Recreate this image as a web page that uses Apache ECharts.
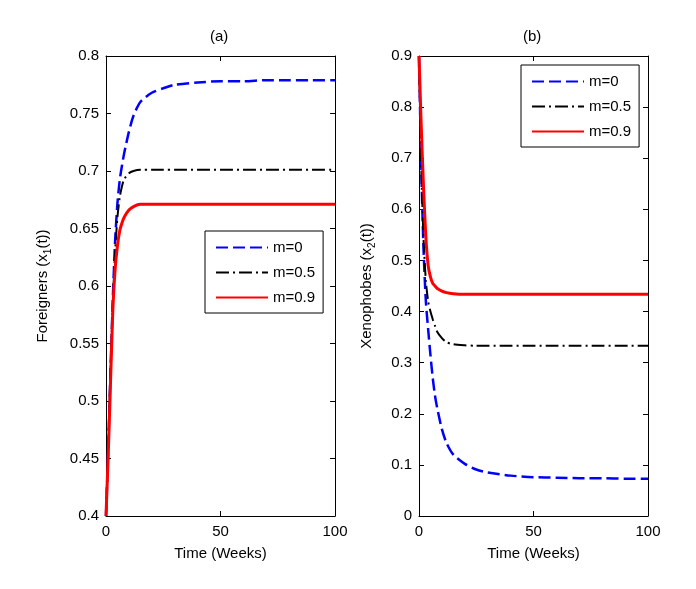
<!DOCTYPE html>
<html>
<head>
<meta charset="utf-8">
<title>Foreigners / Xenophobes</title>
<script src="https://cdn.jsdelivr.net/npm/echarts@6/dist/echarts.min.js"></script>
<style>
  html, body { margin: 0; padding: 0; background: #fff; }
  #chart { width: 696px; height: 589px; }
</style>
</head>
<body>
<div id="chart"></div>
<script>
// time axis (weeks), shared by both panels
const weeks = [0, 1, 2, 3, 4, 5, 6, 7, 8, 10, 12, 15, 20, 25, 30, 40, 50, 60, 70, 80, 90, 100];

// (a) Foreigners x1(t)
const foreignM0  = [0.400, 0.460, 0.528, 0.590, 0.640, 0.672, 0.692, 0.705, 0.716, 0.734, 0.748, 0.760, 0.768, 0.772, 0.775, 0.777, 0.778, 0.778, 0.779, 0.779, 0.779, 0.779];
const foreignM05 = [0.400, 0.462, 0.527, 0.585, 0.630, 0.660, 0.677, 0.687, 0.693, 0.698, 0.700, 0.701, 0.701, 0.701, 0.701, 0.701, 0.701, 0.701, 0.701, 0.701, 0.701, 0.701];
const foreignM09 = [0.400, 0.455, 0.518, 0.580, 0.615, 0.635, 0.648, 0.655, 0.660, 0.666, 0.669, 0.671, 0.671, 0.671, 0.671, 0.671, 0.671, 0.671, 0.671, 0.671, 0.671, 0.671];

// (b) Xenophobes x2(t)
const xenoM0  = [0.900, 0.680, 0.520, 0.420, 0.365, 0.315, 0.270, 0.235, 0.210, 0.170, 0.143, 0.120, 0.102, 0.091, 0.085, 0.079, 0.076, 0.075, 0.074, 0.074, 0.073, 0.073];
const xenoM05 = [0.900, 0.680, 0.540, 0.460, 0.420, 0.400, 0.385, 0.372, 0.360, 0.348, 0.340, 0.336, 0.334, 0.333, 0.333, 0.333, 0.333, 0.333, 0.333, 0.333, 0.333, 0.333];
const xenoM09 = [0.900, 0.760, 0.640, 0.545, 0.490, 0.468, 0.455, 0.450, 0.445, 0.440, 0.437, 0.435, 0.434, 0.434, 0.434, 0.434, 0.434, 0.434, 0.434, 0.434, 0.434, 0.434];

const seriesNames = ['m=0', 'm=0.5', 'm=0.9'];
const xTicks = { min: 0, max: 100, interval: 50 };
const yTicksA = { min: 0.4, max: 0.8, interval: 0.05 };
const yTicksB = { min: 0, max: 0.9, interval: 0.1 };

const FONT = 'Liberation Sans, Arial, sans-serif';

const pair = (vals) => weeks.map((t, i) => [t, vals[i]]);

// line look per m value
const looks = [
  { color: '#0000ff', width: 2.5, type: [12, 5] },
  { color: '#000000', width: 2,   type: [13, 4, 2, 4] },
  { color: '#ff0000', width: 3,   type: 'solid' }
];

const makeSeries = (name, vals, look, idx) => ({
  name: name,
  type: 'line',
  xAxisIndex: idx * 2,
  yAxisIndex: idx * 2,
  data: pair(vals),
  symbol: 'none',
  smooth: 0.25,
  lineStyle: { color: look.color, width: look.width, type: look.type, cap: 'butt' },
  itemStyle: { color: look.color },
  animation: false
});

const tickStyle = { show: true, inside: true, length: 5, lineStyle: { color: '#000', width: 1 } };
const lineStyle = { show: true, onZero: false, lineStyle: { color: '#000', width: 1 } };
const labelStyle = { color: '#000', fontSize: 15, fontFamily: FONT };

// bottom + top x axes for one grid
const xAxes = (g) => [
  {
    type: 'value', gridIndex: g, position: 'bottom', ...xTicks,
    axisLine: lineStyle, axisTick: tickStyle, splitLine: { show: false },
    axisLabel: { ...labelStyle, margin: 8 },
    name: 'Time (Weeks)', nameLocation: 'middle', nameGap: 30,
    nameTextStyle: { color: '#000', fontSize: 15, fontFamily: FONT }
  },
  {
    type: 'value', gridIndex: g, position: 'top', ...xTicks,
    axisLine: lineStyle, axisTick: tickStyle, splitLine: { show: false },
    axisLabel: { show: false }
  }
];

// left + right y axes for one grid
const yAxes = (g, ticks, name, gap) => [
  {
    type: 'value', gridIndex: g, position: 'left', ...ticks,
    axisLine: lineStyle, axisTick: tickStyle, splitLine: { show: false },
    axisLabel: { ...labelStyle, margin: 7 },
    name: name, nameLocation: 'middle', nameGap: gap,
    nameTextStyle: {
      color: '#000', fontSize: 15, fontFamily: FONT,
      rich: { sub: { fontSize: 10, fontFamily: FONT, color: '#000', lineHeight: 20, verticalAlign: 'bottom' } }
    }
  },
  {
    type: 'value', gridIndex: g, position: 'right', ...ticks,
    axisLine: lineStyle, axisTick: tickStyle, splitLine: { show: false },
    axisLabel: { show: false }
  }
];

// boxed legend, line samples only (no marker)
const legendBox = (left, top) => ({
  data: seriesNames,
  orient: 'vertical',
  left: left,
  top: top,
  padding: [9, 8, 8, 10],
  itemWidth: 52,
  itemHeight: 14,
  itemGap: 10,
  backgroundColor: '#fff',
  borderColor: '#000',
  borderWidth: 1,
  borderRadius: 0,
  selectedMode: false,
  itemStyle: { opacity: 0, borderWidth: 0 },
  lineStyle: { opacity: 1 },
  textStyle: { color: '#000', fontSize: 15, fontFamily: FONT }
});

const chart = echarts.init(document.getElementById('chart'), null, { renderer: 'canvas' });

const option = {
  backgroundColor: '#fff',
  animation: false,
  grid: [
    { left: 106, top: 56, width: 229, height: 460 },
    { left: 419, top: 56, width: 229, height: 460 }
  ],
  xAxis: [...xAxes(0), ...xAxes(1)],
  yAxis: [
    ...yAxes(0, yTicksA, 'Foreigners (x{sub|1}(t))', 53),
    ...yAxes(1, yTicksB, 'Xenophobes (x{sub|2}(t))', 42)
  ],
  legend: [legendBox(205, 231), legendBox(521, 65)],
  graphic: [
    { type: 'text', left: 210, top: 29, style: { text: '(a)', fontSize: 15, fontFamily: FONT, fill: '#000' } },
    { type: 'text', left: 523, top: 29, style: { text: '(b)', fontSize: 15, fontFamily: FONT, fill: '#000' } }
  ],
  series: [
    makeSeries(seriesNames[0], foreignM0, looks[0], 0),
    makeSeries(seriesNames[1], foreignM05, looks[1], 0),
    makeSeries(seriesNames[2], foreignM09, looks[2], 0),
    makeSeries(seriesNames[0], xenoM0, looks[0], 1),
    makeSeries(seriesNames[1], xenoM05, looks[1], 1),
    makeSeries(seriesNames[2], xenoM09, looks[2], 1)
  ]
};

chart.setOption(option);
</script>
</body>
</html>
